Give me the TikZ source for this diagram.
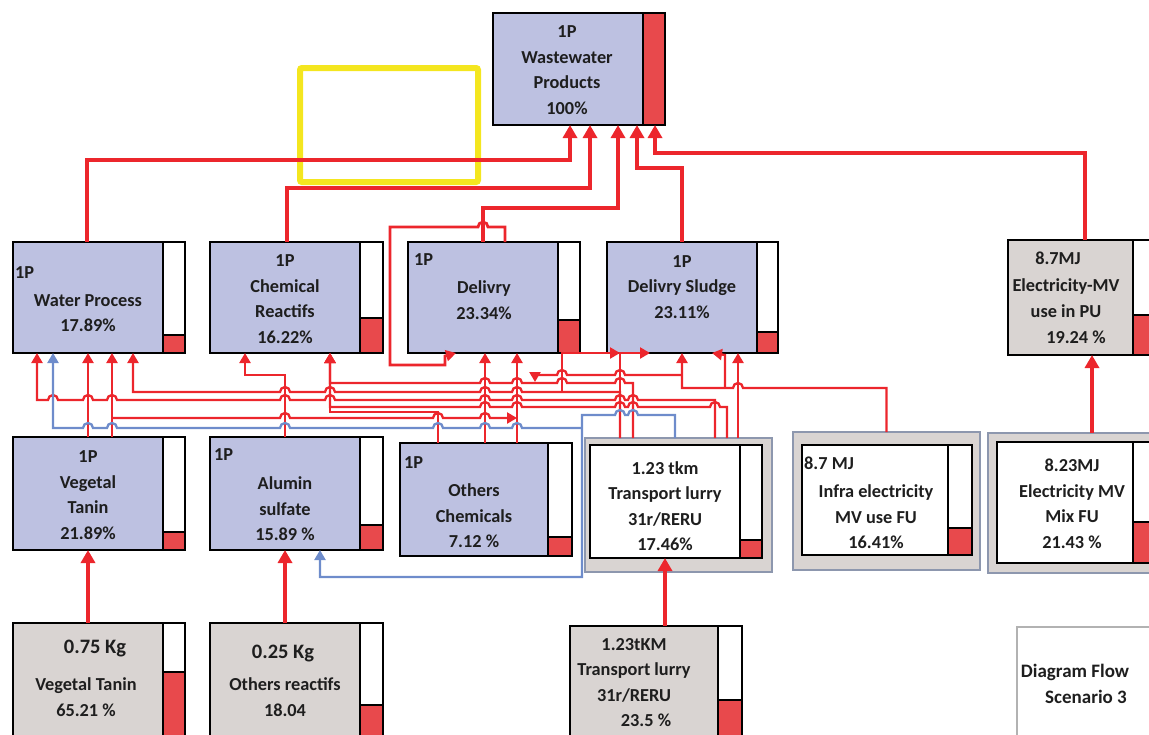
\documentclass[tikz,border=0pt]{standalone}
\usepackage{fontspec}
\setmainfont{Carlito}
\usetikzlibrary{arrows.meta}
\definecolor{procFill}{HTML}{BDC1E1}
\definecolor{greyFill}{HTML}{D9D4D2}
\definecolor{frameC}  {HTML}{8D97AE}
\definecolor{barC}    {HTML}{E8494C}
\definecolor{flowC}   {HTML}{EC262C}
\definecolor{blueC}   {HTML}{6E8CCB}
\definecolor{markC}   {HTML}{F4E61F}
\definecolor{txtC}    {HTML}{1E1E1E}
\newcommand\boxfont{\fontsize{18.3}{25.5}\selectfont\bfseries}
\newcommand\bigfont{\fontsize{20.5}{25.5}\selectfont\bfseries}
\tikzset{
  >={Triangle[length=13pt,width=14pt]},
  procBox/.style={draw=black,line width=2.6pt,fill=procFill,inner sep=0pt,
                  outer sep=0pt,anchor=north west},
  greyBox/.style={procBox,fill=greyFill},
  whiteBox/.style={procBox,fill=white},
  frameBox/.style={draw=frameC,line width=1.6pt,fill=greyFill,inner sep=0pt,
                   outer sep=0pt,anchor=north west},
  noteBox/.style={draw=gray!60,line width=1.2pt,fill=white,inner sep=0pt,
                  outer sep=0pt,anchor=north west},
  barLine/.style={draw=black,line width=2.6pt},
  boxText/.style={font=\boxfont,text=txtC,align=center,inner sep=0pt},
  mainFlow/.style={->,line width=3.8pt,flowC},
  wire/.style={-{Triangle[length=10pt,width=11pt]},line width=2.3pt,flowC},
  blueWire/.style={wire,blueC},
  markBox/.style={draw=markC,line width=6pt,rounded corners=2pt},
  hopl/.style args={#1/#2}{insert path={-- ({#1+5},#2) arc[start angle=0,end angle=-180,radius=5]}},
  hopr/.style args={#1/#2}{insert path={-- ({#1-5},#2) arc[start angle=180,end angle=360,radius=5]}},
}

\begin{document}
\begin{tikzpicture}[x=1pt,y=-1pt]
\useasboundingbox (0,0) rectangle (1149,734);
\clip (0,0) rectangle (1149,734);

% highlight frame
\draw[markBox] (300,68) rectangle (478,182);

% process boxes
\node[procBox,minimum width=172pt,minimum height=112pt] (wp)    at (493,13)  {};
\node[procBox,minimum width=172pt,minimum height=111pt] (wproc) at (13,242)  {};
\node[procBox,minimum width=173pt,minimum height=111pt] (chem)  at (210,242) {};
\node[procBox,minimum width=172pt,minimum height=111pt] (dlv)   at (408,242) {};
\node[procBox,minimum width=171pt,minimum height=111pt] (dsl)   at (607,242) {};
\node[greyBox,minimum width=160pt,minimum height=115pt] (elpu)  at (1008,240) {};
\node[procBox,minimum width=172pt,minimum height=113pt] (vtan)  at (13,437)  {};
\node[procBox,minimum width=173pt,minimum height=113pt] (alum)  at (210,437) {};
\node[procBox,minimum width=172pt,minimum height=113pt] (ochem) at (400,443) {};
\node[frameBox,minimum width=187pt,minimum height=134pt] (transF) at (585,438) {};
\node[whiteBox,minimum width=172pt,minimum height=113pt] (trans) at (590,445) {};
\node[frameBox,minimum width=187pt,minimum height=138pt] (infraF) at (793,432) {};
\node[whiteBox,minimum width=170pt,minimum height=110pt] (infra) at (802,445) {};
\node[frameBox,minimum width=180pt,minimum height=140pt] (elmixF) at (988,433) {};
\node[whiteBox,minimum width=170pt,minimum height=121pt] (elmix) at (997,442) {};
\node[greyBox,minimum width=172pt,minimum height=140pt] (vt2)   at (13,623)  {};
\node[greyBox,minimum width=173pt,minimum height=140pt] (oreac) at (210,623) {};
\node[greyBox,minimum width=172pt,minimum height=140pt] (tl2)   at (570,626) {};
\node[noteBox,minimum width=160pt,minimum height=140pt] (diag)  at (1017,627) {};

% score bars: left x / top / right x / bottom / top of red part
\foreach \xa/\ya/\xb/\yb/\yr in {643/13/665/125/13, 163/242/185/353/335,
    360/242/383/353/318, 558/242/580/353/320, 757/242/778/353/332,
    1133/240/1168/355/315, 163/437/185/550/532, 360/437/383/550/525,
    548/443/572/556/537, 740/445/762/558/540, 948/445/972/555/528,
    1133/442/1167/563/522, 163/623/185/763/672, 360/623/383/763/705,
    718/626/742/766/700} {
  \draw[barLine,fill=white] (\xa,\ya) rectangle (\xb,\yb);
  \draw[barLine,fill=barC]  (\xa,\yr) rectangle (\xb,\yb);
}

% labels
\node[boxText] (wpT) at (567,70) {1P\\Wastewater\\Products\\100\%};
\node[boxText,anchor=west] (wprocP) at (15,273) {1P};
\node[boxText] (wprocT) at (88,313) {Water Process\\17.89\%};
\node[boxText] (chemT) at (285,299) {1P\\Chemical\\Reactifs\\16.22\%};
\node[boxText,anchor=west] (dlvP) at (414,260) {1P};
\node[boxText] (dlvT) at (484,300) {Delivry\\23.34\%};
\node[boxText] (dslT) at (682,287) {1P\\Delivry Sludge\\23.11\%};
\node[boxText] (elpuQ) at (1058,258) {8.7MJ};
\node[boxText] (elpuT) at (1066,298) {Electricity-MV\\use in PU};
\node[boxText] (elpuP) at (1076,337) {19.24 \%};
\node[boxText] (vtanT) at (88,495) {1P\\Vegetal\\Tanin\\21.89\%};
\node[boxText,anchor=west] (alumP) at (214,455) {1P};
\node[boxText] (alumT) at (285,509) {Alumin\\sulfate\\15.89 \%};
\node[boxText,anchor=west] (ochemP) at (404,463) {1P};
\node[boxText] (ochemT) at (474,516) {Others\\Chemicals\\7.12 \%};
\node[boxText] (transT) at (665,506) {1.23 tkm\\Transport lurry\\31r/RERU\\17.46\%};
\node[boxText,anchor=west] (infraP) at (804,463) {8.7 MJ};
\node[boxText] (infraT) at (876,517) {Infra electricity\\MV use FU\\16.41\%};
\node[boxText] (elmixT) at (1072,504) {8.23MJ\\Electricity MV\\Mix FU\\21.43 \%};
\node[boxText,font=\bigfont] (vt2Q) at (95,649) {0.75 Kg};
\node[boxText] (vt2T) at (86,697) {Vegetal Tanin\\65.21 \%};
\node[boxText,font=\bigfont] (oreacQ) at (283,654) {0.25 Kg};
\node[boxText] (oreacT) at (285,697) {Others reactifs\\18.04};
\node[boxText] (tl2T) at (634,670) {1.23tKM\\Transport lurry\\31r/RERU};
\node[boxText] (tl2P) at (646,720) {23.5 \%};
\node[boxText,font=\fontsize{19}{25}\selectfont\bfseries] (diagA) at (1075,672) {Diagram Flow};
\node[boxText,font=\fontsize{19}{25}\selectfont\bfseries] (diagB) at (1086,697) {Scenario 3};

% main flows into Wastewater Products
\draw[mainFlow] ([xshift=-12pt]wproc.north) -- ++(0,-82) -| ([xshift=-9pt]wp.south);
\draw[mainFlow] ([xshift=-9.5pt]chem.north) -- ++(0,-54) -| ([xshift=11pt]wp.south);
\draw[mainFlow] ([xshift=-11pt]dlv.north) -- ++(0,-34) -| ([xshift=39pt]wp.south);
\draw[mainFlow] ([xshift=-10.5pt]dsl.north) -- ++(0,-74) -| ([xshift=58pt]wp.south);
\draw[mainFlow] ([xshift=-3pt]elpu.north) -- ++(0,-87) -| ([xshift=76pt]wp.south);
\draw[mainFlow] ([xshift=14pt]elmixF.north) -- ([xshift=14pt]elmixF.north |- elpu.south);
\draw[mainFlow] ([xshift=-11pt]vt2.north) -- ([xshift=-11pt]vt2.north |- vtan.south);
\draw[mainFlow] ([xshift=-11.5pt]oreac.north) -- ([xshift=-11.5pt]oreac.north |- alum.south);
\draw[mainFlow] ([xshift=9pt]tl2.north) -- ([xshift=9pt]tl2.north |- trans.south);

% Delivry loop
\draw[wire,line width=2.8pt] ([xshift=11pt]dlv.north) -- ++(0,-15) [hopl=483/227]
  -- (390,227) -- (390,365) -- (445,365) -- (445,356) -- ([xshift=-38pt]dlv.south);

% band wires (red)
\draw[wire] ([xshift=-11pt]vtan.north) -- ([xshift=-11pt]wproc.south);
\draw[wire] ([xshift=13pt]vtan.north) -- ([xshift=13pt]wproc.south);
\draw[wire] ([xshift=-11.5pt]alum.north) -- ++(0,-62) -| ([xshift=-51.5pt]chem.south);
\draw[wire] ([xshift=-48pt]ochem.north) -- ++(0,-31) -| ([xshift=33.5pt]chem.south);
\draw[wire] ([xshift=-1pt]ochem.north) -- ([xshift=-9pt]dlv.south);
\draw[wire] ([xshift=31pt]ochem.north) -- ([xshift=23pt]dlv.south);
\draw[wire] ([xshift=13pt]vtan.north) ++(0,-19) [hopr=285/418] [hopr=438/418]
  [hopr=485/418] -- (517,418);
\draw[wire] ([xshift=-45.5pt]transF.north) -- ++(0,-55) [hopl=620/383] [hopl=562/383]
  [hopl=517/383] [hopl=485/383] -| ([xshift=33.5pt]chem.south);
\draw[wire] ([xshift=-58.5pt]transF.north) -- ++(0,-46) [hopl=517/392] [hopl=485/392]
  [hopl=330/392] [hopl=285/392] -| ([xshift=34pt]wproc.south);
\draw[wire] ([xshift=36.5pt]transF.north) -- ++(0,-38) [hopl=633/400] [hopl=620/400]
  [hopl=517/400] [hopl=485/400] [hopl=330/400] [hopl=285/400] [hopl=112/400]
  [hopl=88/400] [hopl=53/400] -| ([xshift=-62pt]wproc.south);
\draw[wire] ([xshift=48.5pt]transF.north) -- ++(0,-31) [hopl=715/407] [hopl=633/407]
  [hopl=620/407] [hopl=517/407] [hopl=485/407] -| ([xshift=33.5pt]chem.south);
\draw[wire] ([xshift=-58.5pt]transF.north) -- ([xshift=-58.5pt]transF.north |- dsl.south)
  -- ([xshift=-42.5pt]dsl.south);
\draw[wire] (562,392) -- (562,353) -- (620,353);
\draw[wire] ([xshift=59.5pt]transF.north) -- ([xshift=45.5pt]dsl.south);
\draw[wire] (infraF.north) -- ++(0,-44) [hopl=738/388] -| ([xshift=-10.5pt]dsl.south);
\draw[wire] (725,388) -- (725,355) -- ([xshift=19.5pt]dsl.south);
\draw[wire] (682,375) [hopl=620/375] [hopl=562/375] -- (535,375) -- (535,382);

% blue wires
\coordinate (bj) at (582,428);
\draw[blueWire] ([xshift=-3.5pt]transF.north) -- ++(0,-23) [hopl=633/415] [hopl=620/415]
  -- (582,415) -- (582,577) -| ([xshift=23.5pt]alum.south);
\draw[blueWire] (bj) [hopl=517/428] [hopl=485/428] [hopl=438/428] [hopl=285/428]
  [hopl=112/428] [hopl=88/428] -| ([xshift=-46pt]wproc.south);

\end{tikzpicture}
\end{document}
